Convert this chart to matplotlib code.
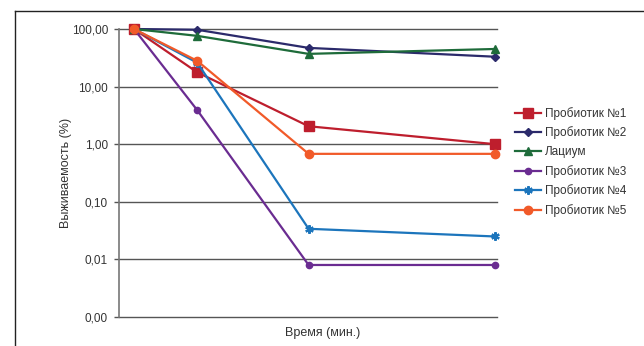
import numpy as np
import matplotlib
matplotlib.use('Agg')
import matplotlib.pyplot as plt
from matplotlib.lines import Line2D
from matplotlib.ticker import FixedLocator, FixedFormatter, NullLocator

# Data (survival, %), x = time points
time_points = [0, 10.5, 29, 60]
probiotic_1 = [100, 17.7, 2.05, 1.0]
probiotic_2 = [100, 97, 47, 33]
lacium = [100, 76, 37, 45]
probiotic_3 = [100, 3.9, 0.0080, 0.0080]
probiotic_4 = [100, 26, 0.034, 0.025]
probiotic_5 = [100, 28, 0.68, 0.68]

series_names = ['Пробиотик №1', 'Пробиотик №2', 'Лациум',
                'Пробиотик №3', 'Пробиотик №4', 'Пробиотик №5']
y_ticks = [0.001, 0.01, 0.1, 1, 10, 100]
y_tick_labels = ['0,00', '0,01', '0,10', '1,00', '10,00', '100,00']

styles = [
    dict(color='#BE1E2D', marker='s', markersize=7),
    dict(color='#2B2A6B', marker='D', markersize=4.5),
    dict(color='#1E6B3A', marker='^', markersize=6),
    dict(color='#6A2C91', marker='o', markersize=4.5),
    dict(color='#1C75BC', marker=(6, 2, 0), markersize=6, markeredgewidth=1.6),
    dict(color='#F15A29', marker='o', markersize=6),
]
all_series = [probiotic_1, probiotic_2, lacium, probiotic_3, probiotic_4, probiotic_5]

plt.rcParams['font.family'] = ['Liberation Sans', 'DejaVu Sans']
fig = plt.figure(figsize=(6.44, 3.46), dpi=100)
ax = fig.add_axes([119 / 644, 1 - 317 / 346, (497 - 119) / 644, (317 - 29) / 346])

for vals, name, st in zip(all_series, series_names, styles):
    ax.plot(time_points, vals, label=name, linewidth=1.6, clip_on=False, zorder=3, **st)

ax.set_yscale('log')
ax.set_ylim(0.001, 100)
ax.set_xlim(-2.5, 60.3)
ax.yaxis.set_major_locator(FixedLocator(y_ticks))
ax.yaxis.set_major_formatter(FixedFormatter(y_tick_labels))
ax.yaxis.set_minor_locator(NullLocator())
ax.xaxis.set_major_locator(NullLocator())
ax.tick_params(axis='y', direction='out', length=3.6, width=1, color='#555555',
               labelsize=8.5, labelcolor='#333333', pad=4.3)

for v in y_ticks:
    ax.axhline(v, color='#555555', linewidth=1.0, zorder=1, clip_on=False)

for side in ['top', 'right', 'bottom']:
    ax.spines[side].set_visible(False)
ax.spines['left'].set_color('#777777')
ax.spines['left'].set_linewidth(1.2)

ax.set_ylabel('Выживаемость (%)', fontsize=9, color='#333333')
ax.yaxis.set_label_coords(-0.124, 0.5)
ax.set_xlabel('Время (мин.)', fontsize=9, color='#333333')
ax.xaxis.set_label_coords(0.54, -0.035)

ax.legend(loc='upper left', bbox_to_anchor=(515 / 644, 1 - 107 / 346),
          bbox_transform=fig.transFigure, frameon=False, borderpad=0,
          borderaxespad=0, fontsize=8.5, handlelength=2.2, handletextpad=0.35,
          labelspacing=0.56, labelcolor='#333333')

# outer frame (top and left edges of the chart box)
fig.add_artist(Line2D([15 / 644, 1.0], [1 - 11 / 346, 1 - 11 / 346],
                      transform=fig.transFigure, color='#222222', linewidth=1.0))
fig.add_artist(Line2D([15 / 644, 15 / 644], [0.0, 1 - 11 / 346],
                      transform=fig.transFigure, color='#222222', linewidth=1.0))

fig.savefig('out.png', dpi=100, facecolor='white')
